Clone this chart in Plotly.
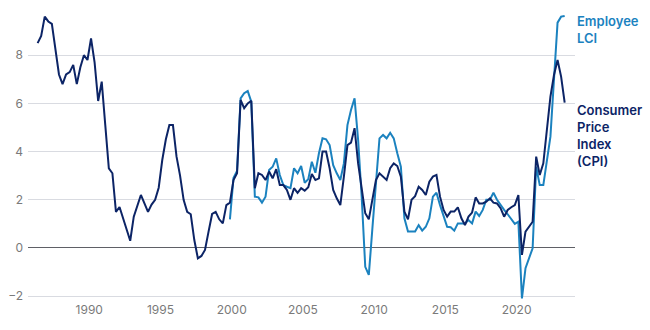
import plotly.graph_objects as go

start_year = 1986.375
step = 0.25

cpi = [8.5, 8.8, 9.6, 9.4, 9.3, 8.2, 7.2, 6.8, 7.2, 7.3,
       7.6, 6.8, 7.5, 8.0, 7.8, 8.7, 7.7, 6.1, 6.9, 5.1,
       3.3, 3.1, 1.5, 1.7, 1.2, 0.8, 0.3, 1.3, 1.8, 2.2,
       1.85, 1.5, 1.8, 2.0, 2.5, 3.65, 4.5, 5.1, 5.1, 3.8,
       3.0, 2.0, 1.5, 1.4, 0.33, -0.43, -0.33, -0.08, 0.68, 1.41,
       1.5, 1.19, 1.02, 1.78, 1.88, 2.82, 3.1, 6.14, 5.8, 6.0,
       6.11, 2.48, 3.1, 3.03, 2.82, 3.17, 2.89, 3.27, 2.61, 2.61,
       2.41, 2.0, 2.48, 2.29, 2.48, 2.38, 2.52, 3.07, 2.82, 2.89,
       4.0, 4.0, 3.31, 2.41, 2.06, 1.78, 2.96, 4.27, 4.37, 4.97,
       3.51, 2.41, 1.44, 1.19, 2.0, 2.82, 3.1, 2.96, 2.82, 3.31,
       3.51, 3.4, 2.96, 1.51, 1.19, 2.0, 2.15, 2.54, 2.41, 2.2,
       2.75, 2.96, 3.03, 2.13, 1.58, 1.3, 1.51, 1.51, 1.69, 1.23,
       0.95, 1.3, 1.47, 2.1, 1.85, 1.85, 1.92, 2.06, 1.88, 1.85,
       1.65, 1.3, 1.58, 1.69, 1.78, 2.2, -0.29, 0.68, 0.88, 1.09,
       3.79, 3.03, 3.51, 4.97, 6.28, 7.18, 7.8, 7.11, 6.03]

lci_start_index = 54
lci = [1.19, 2.9, 3.2, 6.21, 6.42, 6.51, 6.07, 2.13, 2.1, 1.88,
       2.13, 3.24, 3.37, 3.72, 3.03, 2.61, 2.54, 2.48, 3.31, 3.1,
       3.4, 2.71, 2.85, 3.58, 3.12, 3.93, 4.55, 4.51, 4.27, 3.44,
       3.1, 2.82, 3.51, 5.1, 5.73, 6.21, 4.48, 2.13, -0.78, -1.12,
       0.8, 2.7, 4.55, 4.69, 4.55, 4.78, 4.55, 3.93, 3.37, 1.23,
       0.68, 0.68, 0.68, 0.95, 0.72, 0.88, 1.23, 2.13, 2.29, 1.78,
       1.3, 0.88, 0.86, 0.72, 1.02, 1.02, 1.02, 1.16, 1.02, 1.51,
       1.33, 1.58, 2.0, 2.0, 2.29, 2.0, 1.78, 1.58, 1.4, 1.2,
       1.0, 1.09, -2.09, -0.84, -0.43, -0.01, 3.37, 2.61, 2.61, 3.72,
       4.62, 7.0, 9.35, 9.6, 9.63]

x_ticks = [1990, 1995, 2000, 2005, 2010, 2015, 2020]
y_ticks = [-2, 0, 2, 4, 6, 8]

cpi_x = [start_year + step * i for i in range(len(cpi))]
lci_x = [start_year + step * (lci_start_index + i) for i in range(len(lci))]

CPI_COLOR = "#0c2466"
LCI_COLOR = "#1b82bf"

fig = go.Figure()
fig.add_trace(go.Scatter(x=lci_x, y=lci, mode="lines", name="Employee LCI",
                         line=dict(color=LCI_COLOR, width=2)))
fig.add_trace(go.Scatter(x=cpi_x, y=cpi, mode="lines", name="Consumer Price Index (CPI)",
                         line=dict(color=CPI_COLOR, width=2)))

font_family = "Inter, Roboto, sans-serif"

fig.update_layout(
    width=650, height=330,
    margin=dict(l=28, r=75, t=7, b=29),
    paper_bgcolor="white", plot_bgcolor="white",
    showlegend=False,
    font=dict(family=font_family, size=12, color="#7a7a7a"),
    xaxis=dict(range=[1985.7, 2024.1], tickvals=x_ticks, showgrid=False,
               zeroline=False, showline=False, ticks="",
               tickfont=dict(size=12, color="#7a7a7a")),
    yaxis=dict(range=[-2.2, 10], tickvals=y_ticks, showgrid=True,
               gridcolor="#d9dbe1", gridwidth=1,
               zeroline=True, zerolinecolor="#5f6066", zerolinewidth=1,
               showline=False, ticks="", ticklabelstandoff=4,
               tickfont=dict(size=12, color="#7a7a7a")),
)

fig.add_annotation(xref="paper", yref="y", x=1.0, y=9.05, xanchor="left", yanchor="middle",
                   xshift=0, align="left", showarrow=False,
                   text="Employee<br>LCI",
                   font=dict(family=font_family, size=13, color=LCI_COLOR, weight=600))
fig.add_annotation(xref="paper", yref="y", x=1.0, y=4.68, xanchor="left", yanchor="middle",
                   xshift=0, align="left", showarrow=False,
                   text="Consumer<br>Price<br>Index<br>(CPI)",
                   font=dict(family=font_family, size=13, color=CPI_COLOR, weight=600))

fig.write_html("out.html")
